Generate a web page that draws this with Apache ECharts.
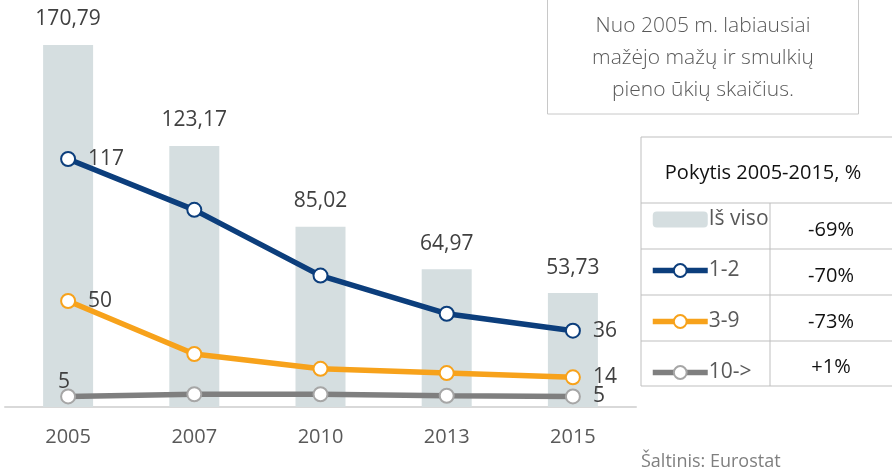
<!DOCTYPE html>
<html>
<head>
<meta charset="utf-8">
<script src="https://cdn.jsdelivr.net/npm/echarts@6/dist/echarts.min.js"></script>
<style>
  html, body { margin: 0; padding: 0; background: #fff; }
  #chart { width: 892px; height: 473px; }
</style>
</head>
<body>
<div id="chart"></div>
<script>
// duomenys
const years = ['2005', '2007', '2010', '2013', '2015'];
const totalFarms = [170.79, 123.17, 85.02, 64.97, 53.73];
const farms12 = [117, 93, 62, 44, 36];
const farms39 = [50, 25, 18, 16, 14];
const farms10 = [5, 6, 6, 5.3, 5];
const seriesNames = ['Iš viso', '1-2', '3-9', '10->'];
const changes = ['-69%', '-70%', '-73%', '+1%'];

const font = 'Open Sans';
const textGray = '#404040';

// tik pirma ir paskutine reiksme
function endLabels(values, firstLabel) {
  return values.map((v, i) => {
    const item = { value: v };
    if (i === 0 && firstLabel) item.label = firstLabel;
    if (i !== 0 && i !== values.length - 1) item.label = { show: false };
    return item;
  });
}

function lineSeries(name, values, color, border, firstLabel) {
  return {
    name: name,
    type: 'line',
    data: endLabels(values, firstLabel),
    symbol: 'circle',
    symbolSize: 14,
    lineStyle: { color: color, width: 5.5 },
    itemStyle: { color: '#fff', borderColor: border, borderWidth: 2 },
    label: {
      show: true,
      position: 'right',
      distance: 12,
      fontFamily: font,
      fontSize: 21,
      color: textGray
    },
    z: 3
  };
}

// lenteles linijos
const tbl = { left: 641, top: 137, right: 895, col: 770, rows: [203, 249, 295, 341, 386] };
const tableGraphics = [];
const stroke = { stroke: '#bfbfbf', lineWidth: 1 };
tableGraphics.push({ type: 'line', shape: { x1: tbl.left, y1: tbl.top, x2: tbl.right, y2: tbl.top }, style: stroke });
tableGraphics.push({ type: 'line', shape: { x1: tbl.left, y1: tbl.top, x2: tbl.left, y2: tbl.rows[4] }, style: stroke });
tbl.rows.forEach(y => {
  tableGraphics.push({ type: 'line', shape: { x1: tbl.left, y1: y, x2: tbl.right, y2: y }, style: stroke });
});
tableGraphics.push({ type: 'line', shape: { x1: tbl.col, y1: tbl.rows[0], x2: tbl.col, y2: tbl.rows[4] }, style: stroke });
tableGraphics.push({
  type: 'text', x: 763, y: 173,
  style: { text: 'Pokytis 2005-2015, %', fontFamily: font, fontSize: 20, fill: '#111', align: 'center', verticalAlign: 'middle' }
});
changes.forEach((c, i) => {
  tableGraphics.push({
    type: 'text', x: 831, y: (tbl.rows[i] + tbl.rows[i + 1]) / 2 + 4,
    style: { text: c, fontFamily: font, fontSize: 20, fill: '#111', align: 'center', verticalAlign: 'middle' }
  });
});

const option = {
  animation: false,
  backgroundColor: '#fff',
  grid: { left: 5, right: 256, top: 0, bottom: 66, containLabel: false },
  xAxis: {
    type: 'category',
    data: years,
    axisTick: { show: false },
    axisLine: { lineStyle: { color: '#d9d9d9', width: 2 } },
    axisLabel: { fontFamily: font, fontSize: 20, color: '#595959', margin: 20 }
  },
  yAxis: { type: 'value', min: 0, max: 192, show: false },
  legend: {
    orient: 'vertical',
    left: 645,
    top: 204,
    itemWidth: 55,
    itemHeight: 16,
    itemGap: 30,
    data: seriesNames,
    lineStyle: { width: 5.5 },
    textStyle: { fontFamily: font, fontSize: 21, color: '#595959', padding: [0, 0, 0, -4] }
  },
  series: [
    {
      name: seriesNames[0],
      type: 'bar',
      data: totalFarms,
      barWidth: 50,
      itemStyle: { color: '#d5dee0' },
      label: {
        show: true,
        position: 'top',
        distance: 15,
        fontFamily: font,
        fontSize: 21,
        color: textGray,
        formatter: p => p.value.toFixed(2).replace('.', ',')
      },
      z: 1
    },
    lineSeries(seriesNames[1], farms12, '#0c3e7c', '#0c3e7c'),
    lineSeries(seriesNames[2], farms39, '#f7a21b', '#f7a21b'),
    lineSeries(seriesNames[3], farms10, '#7f7f7f', '#a6a6a6', { position: 'top', distance: -4, offset: [-4, 0] })
  ],
  graphic: [
    {
      type: 'rect', shape: { x: 547.5, y: -2, width: 311, height: 116 },
      style: { fill: '#fff', stroke: '#c8c8c8', lineWidth: 1 }
    },
    {
      type: 'text', x: 703, y: 58,
      style: {
        text: 'Nuo 2005 m. labiausiai\nmažėjo mažų ir smulkių\npieno ūkių skaičius.',
        fontFamily: font, fontSize: 21, fontWeight: 300, lineHeight: 32,
        fill: '#595959', align: 'center', verticalAlign: 'middle'
      }
    },
    {
      type: 'text', x: 641, y: 462,
      style: { text: 'Šaltinis: Eurostat', fontFamily: font, fontSize: 18, fill: '#7f7f7f', verticalAlign: 'middle' }
    }
  ].concat(tableGraphics)
};

const myChart = echarts.init(document.getElementById('chart'));
myChart.setOption(option, true);
</script>
</body>
</html>
